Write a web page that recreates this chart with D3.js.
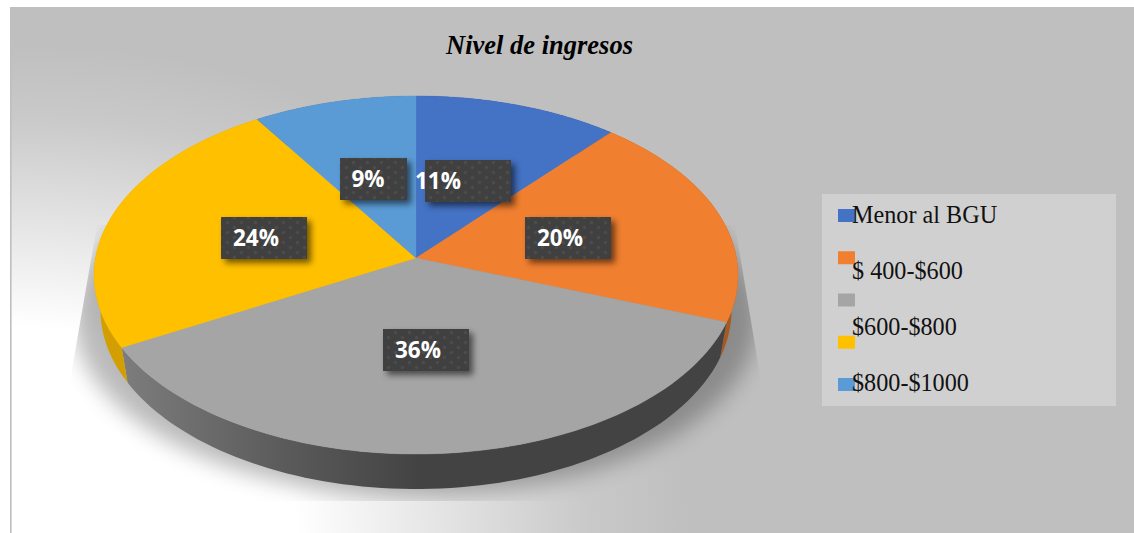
<!DOCTYPE html>
<html><head><meta charset="utf-8">
<script src="https://cdn.jsdelivr.net/npm/d3@7"></script>
<style>html,body{margin:0;padding:0;background:#fff;overflow:hidden}svg{display:block}</style>
</head><body><svg id="c" width="1134" height="533"></svg>
<script>
const title = "Nivel de ingresos";
const legendLabels = ["Menor al BGU", "$ 400-$600", "$600-$800", "$800-$1000"];
const values = [11.3, 19.4, 36.3, 24, 9];
const labels = ["11%", "20%", "36%", "24%", "9%"];
const colors = ["#4472c4", "#f07f30", "#a5a5a5", "#ffc000", "#5b9bd5"];
const sideColors = ["#2f4f89", "#a8591f", "url(#sideGray)", "#d29e00", "#3f6d96"];

// layout
const W = 1134, H = 533;
const cx = 416, cy = 258, R = 320.5, persp = -0.095, yA = 152.9, depth = 35, rimK = 0.98;
const labelBoxes = [[425,160],[525,217],[383,329],[221,217],[340,158]];
const labelW = [86,86,86,86,67], labelH = 42;
const labelTextX = [438,560,418,256,368];

const svg = d3.select("#c");
const defs = svg.append("defs");

// Background
const bg = defs.append("radialGradient").attr("id","bg").attr("gradientUnits","userSpaceOnUse")
  .attr("cx",0).attr("cy",0).attr("r",1)
  .attr("gradientTransform",`translate(10,533) scale(680,490)`);
[[0,"#ffffff"],[0.42,"#ffffff"],[0.62,"#e6e6e6"],[0.85,"#c9c9c9"],[1,"#bfbfbf"]].forEach(([o,c])=>bg.append("stop").attr("offset",o).attr("stop-color",c));
const sg = defs.append("linearGradient").attr("id","sideGray").attr("gradientUnits","userSpaceOnUse")
  .attr("x1",125).attr("x2",420).attr("y1",0).attr("y2",0);
[[0,"#7c7c7c"],[0.55,"#5a5a5a"],[1,"#434343"]].forEach(([o,c])=>sg.append("stop").attr("offset",o).attr("stop-color",c));
defs.append("filter").attr("id","blur").attr("x","-20%").attr("y","-20%").attr("width","140%").attr("height","140%")
  .append("feGaussianBlur").attr("stdDeviation",11);
const ls = defs.append("filter").attr("id","lblShadow").attr("x","-30%").attr("y","-30%").attr("width","170%").attr("height","170%");
ls.append("feGaussianBlur").attr("stdDeviation",3.4);
const pat = defs.append("pattern").attr("id","dots").attr("patternUnits","userSpaceOnUse").attr("width",14).attr("height",10);
pat.append("rect").attr("width",14).attr("height",10).attr("fill","#404040");
pat.append("circle").attr("cx",3.5).attr("cy",2.5).attr("r",1.7).attr("fill","#4c4c4c");
pat.append("circle").attr("cx",10.5).attr("cy",7.5).attr("r",1.7).attr("fill","#4c4c4c");
defs.append("clipPath").attr("id","shadowClip").append("path")
  .attr("d","M97,225 L71,375 L71,501 L763,501 L760,375 L735,225 Z");

svg.append("rect").attr("x",10).attr("y",7).attr("width",W-10).attr("height",H-7).attr("fill","url(#bg)");
svg.append("rect").attr("x",10).attr("y",7).attr("width",1.6).attr("height",H-7).attr("fill","#bfbfbf");

// Perspective projection of the pie plane
function project(theta, r = 1) {
  const u = r * Math.sin(theta), v = -r * Math.cos(theta), d = 1 + persp * v;
  return [cx + R * u / d, (cy + yA * v) / d];
}
function rim(theta) {
  const [x, y] = project(theta);
  return [cx + (x - cx) * rimK, y + depth];
}
const line = d3.line();
const pie = d3.pie().sort(null).value(d => d)(values);
const samples = (a, b) => d3.range(0, 81).map(i => a + (b - a) * i / 80);

// Shadow under the pie
const sh = svg.append("g").attr("clip-path","url(#shadowClip)");
sh.append("ellipse").attr("cx",cx).attr("cy",318).attr("rx",342).attr("ry",178)
  .attr("fill","#000").attr("opacity",0.27).attr("filter","url(#blur)");

// Side wall
const g = svg.append("g");
g.selectAll("path.side").data(pie).join("path").attr("class","side")
  .attr("fill",(d,i)=>sideColors[i])
  .attr("d",d=>{
    const s = samples(d.startAngle,d.endAngle);
    return line([...s.map(rim), ...s.slice().reverse().map(t=>project(t))])+"Z";
  });
// Top face
g.selectAll("path.top").data(pie).join("path").attr("class","top")
  .attr("fill",(d,i)=>colors[i]).attr("stroke",(d,i)=>colors[i]).attr("stroke-width",0.4)
  .attr("d",d=>{
    const s = samples(d.startAngle,d.endAngle);
    return line([[cx,cy], ...s.map(t=>project(t))])+"Z";
  });

// Data labels
const lab = svg.append("g").selectAll("g").data(pie).join("g");
lab.append("rect").attr("x",(d,i)=>labelBoxes[i][0]+4).attr("y",(d,i)=>labelBoxes[i][1]+4)
  .attr("width",(d,i)=>labelW[i]).attr("height",labelH).attr("fill","#000").attr("opacity",0.55).attr("filter","url(#lblShadow)");
lab.append("rect").attr("x",(d,i)=>labelBoxes[i][0]).attr("y",(d,i)=>labelBoxes[i][1])
  .attr("width",(d,i)=>labelW[i]).attr("height",labelH).attr("fill","url(#dots)");
lab.append("text").attr("x",(d,i)=>labelTextX[i]).attr("y",(d,i)=>labelBoxes[i][1]+labelH/2+8)
  .attr("text-anchor","middle").attr("fill","#fff").attr("font-family","'Open Sans','Noto Sans',sans-serif")
  .attr("font-weight",700).attr("font-size",22.5).text((d,i)=>labels[i]);

// Title
svg.append("text").attr("x",539.5).attr("y",53.5).attr("text-anchor","middle")
  .attr("font-family","'Liberation Serif',serif").attr("font-style","italic").attr("font-weight",700)
  .attr("font-size",26.5).attr("fill","#000").text(title);

// Legend
svg.append("rect").attr("x",822).attr("y",194).attr("width",294).attr("height",212).attr("fill","#d0d0d0");
const swatchY = d3.scalePoint().domain(d3.range(values.length)).range([209,378]);
svg.append("g").selectAll("rect").data(colors).join("rect")
  .attr("x",838).attr("y",(d,i)=>swatchY(i)).attr("width",17).attr("height",13).attr("fill",d=>d);
const textY = d3.scalePoint().domain(d3.range(legendLabels.length)).range([223,391]);
svg.append("g").selectAll("text").data(legendLabels).join("text")
  .attr("x",852).attr("y",(d,i)=>textY(i))
  .attr("font-family","'Liberation Serif',serif").attr("font-size",24.2).attr("fill","#111").text(d=>d);
</script></body></html>
